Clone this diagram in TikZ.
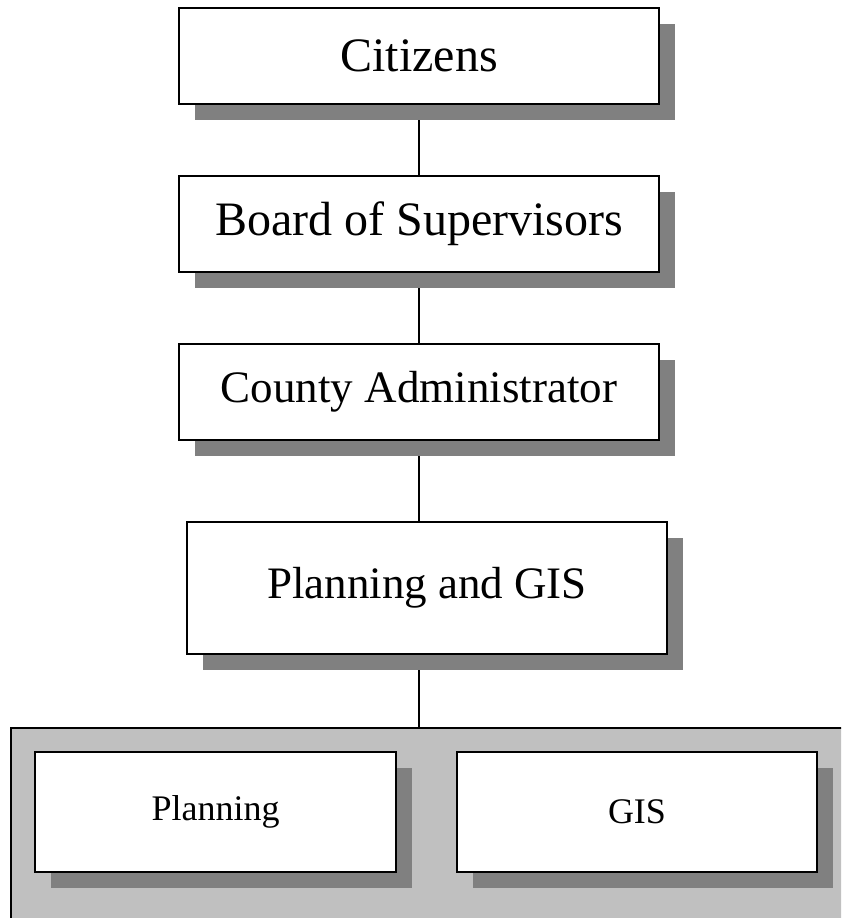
\documentclass[tikz,border=0pt]{standalone}
\usepackage{fontspec}
\setmainfont{Liberation Serif}
\usetikzlibrary{shadows,backgrounds}
\definecolor{shadowgray}{HTML}{808080}
\definecolor{groupgray}{HTML}{C0C0C0}
\begin{document}
\begin{tikzpicture}[x=1pt,y=-1pt,
  orgbox/.style={draw=black, line width=1.4pt, fill=white, inner sep=0pt,
    drop shadow={shadow xshift=16pt, shadow yshift=-16pt, fill=shadowgray, opacity=1}},
  big/.style={font=\fontsize{48}{52}\selectfont},
  mid/.style={font=\fontsize{45}{50}\selectfont},
  small/.style={font=\fontsize{36}{40}\selectfont},
  groupbox/.style={draw=black, line width=1.4pt, fill=groupgray, inner sep=0pt},
  link/.style={draw=black, line width=1.3pt}]
\useasboundingbox (0,0) rectangle (841,918);
\clip (0,0) rectangle (841,918);
\node[orgbox, big, minimum width=480pt, minimum height=96pt] (citizens) at (419,56) {Citizens};
\node[orgbox, big, minimum width=480pt, minimum height=96pt] (board) at (419,224) {Board of Supervisors};
\node[orgbox, mid, minimum width=480pt, minimum height=96pt] (county) at (419,392) {County Administrator};
\node[orgbox, mid, minimum width=480pt, minimum height=132pt] (pg) at (427,588) {Planning and GIS};
\node[groupbox, minimum width=849pt, minimum height=202pt] (group) at (435.5,829) {};
\node[orgbox, small, minimum width=361pt, minimum height=120pt] (planning) at (215.5,812) {Planning};
\node[orgbox, small, minimum width=360pt, minimum height=120pt] (gis) at (637,812) {GIS};
\begin{pgfonlayer}{background}
\draw[link] (citizens.south) -- (board.north);
\draw[link] (board.south) -- (county.north);
\draw[link] (county.south) -- (county.south |- pg.north);
\draw[link] (pg.south -| county.south) -- (group.north -| county.south);
\end{pgfonlayer}
\end{tikzpicture}
\end{document}
